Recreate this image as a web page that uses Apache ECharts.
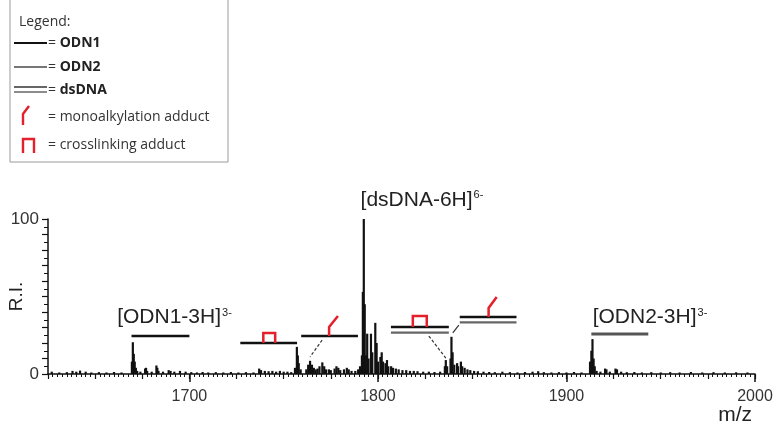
<!DOCTYPE html>
<html><head><meta charset="utf-8">
<script src="https://cdn.jsdelivr.net/npm/echarts@6/dist/echarts.min.js"></script>
<style>html,body{margin:0;padding:0;background:#fff}#c{width:777px;height:426px}</style>
</head><body><div id="c"></div>
<script>
// Stick spectrum: [m/z, relative intensity]
const peaks = [
 [1627,1.5],[1631,1],[1635,1.2],[1638,2],[1640,1.5],[1642,2.2],[1645,1.5],[1648,1],[1652,1.2],[1656,1],[1660,1.3],[1664,1],
 [1669.5,8],[1670,20.5],[1670.5,13],[1671,8],[1671.6,4],[1672.3,2],[1674,1.5],[1676.5,3.5],[1677,4],[1677.6,2],[1680,1.5],
 [1682.5,5.5],[1683,4],[1683.6,2],[1686,1.5],[1689,2.5],[1690,2],[1692,1.5],[1695,2],[1698,1.5],[1701,1.2],[1704,1],
 [1707,1.3],[1710,1],[1714,1.2],[1718,1],[1722,1.3],[1726,1],[1730,1.2],[1734,1],
 [1737,3.5],[1738,2.5],[1740,2],[1742,1.8],[1744,2],[1746,1.5],[1748,2],[1750,1.5],[1752,1.5],[1754,1.2],
 [1756,4],[1757,17.5],[1757.5,12],[1758,7],[1759,3],
 [1762,3],[1763,6],[1764,8.5],[1765,6],[1766,4],[1767,3],[1768,3.5],[1769,5],[1770.5,7.5],[1771.5,5],[1772.5,3],
 [1774,3],[1775,2.5],[1777,3.5],[1778,5],[1779,4],[1780,2.5],[1782,3],[1783.5,4],[1784.5,3],[1786,2],[1788,2],[1789.5,3],[1790.5,5],
 [1791.5,12],[1792,53],[1792.5,100],[1793,45],[1793.6,12],[1794.3,26],[1795,10],[1796.3,26],[1797,14],[1798.6,33],[1799.3,20],
 [1800,8],[1801.3,11],[1802,14],[1802.7,8],[1804,7],[1804.8,9],[1805.5,5],[1807,5],[1808,4],[1809.5,3.5],[1811,3],[1813,2.5],
 [1815,2.5],[1817,2],[1819,2],[1821,1.8],[1824,1.5],[1827,1.5],[1830,1.3],[1833,1.5],
 [1835.5,5],[1836,9],[1836.7,5],[1838.5,10],[1839,24],[1839.6,14],[1840.5,6],[1842,7],[1842.5,5],[1844,8],[1844.7,5],
 [1846,4],[1847.5,3],[1849,2.5],[1851,2],[1853,1.8],[1856,1.5],[1859,1.3],[1862,1.2],[1866,1.5],[1870,1.2],[1874,1],
 [1878,1.3],[1882,1.5],[1885,1.8],[1888,1.2],[1892,1],[1896,1.2],[1900,1],[1904,1.3],[1908,1],
 [1912.5,8],[1913.2,15],[1913.8,22.5],[1914.4,10],[1915,5],[1916,2],[1918,1.5],[1920.5,3.5],[1921.2,3],[1923,1.5],
 [1926,3.5],[1926.8,3],[1929,1.5],[1932,1.2],[1936,1.3],[1940,1],[1945,1.2],[1950,1],[1955,1.2],[1960,1],[1966,1.3],
 [1972,1],[1978,1.2],[1984,1],[1990,1.1],[1996,1]
];
const xTickLabels = [1700, 1800, 1900, 2000];
const yTickLabels = [0, 100];
// Ion labels: [main text, superscript, m/z of left edge, R.I. of baseline]
const ionLabels = [
 ['[ODN1-3H]', '3-', 1661.7, 29.6],
 ['[dsDNA-6H]', '6-', 1790.8, 105.2],
 ['[ODN2-3H]', '3-', 1913.9, 29.6]
];
// Strand bars: [m/z start, m/z end, R.I.]
const odn1Bars = [[1669.3, 1700, 24.5], [1727, 1757.1, 20], [1759.3, 1789.4, 24.5]];
const odn2Bars = [[1913.2, 1943.4, 25.8]];
const dsBars = [[1806.9, 1837.6, 30.3], [1843.4, 1873.5, 36.8]];
// Crosslink adducts: [m/z left, m/z right, R.I. base, R.I. top]
const crosslinks = [[1739.2, 1745.5, 20, 26.5], [1818.5, 1825.9, 30.3, 37.4]];
// Monoalkylation adducts: [m/z stem, R.I. base, R.I. knee, m/z tip, R.I. tip]
const monoAdducts = [[1774.1, 24.5, 30.3, 1778.8, 37.4], [1858.7, 36.8, 42.6, 1863, 49.7]];
// Connectors: [m/z1, R.I.1, m/z2, R.I.2, dashed]
const connectors = [[1770.4, 21.9, 1764, 11, 1], [1827, 24.5, 1836, 10.3, 1], [1842.9, 31.6, 1839.7, 26.5, 0]];

const RED = '#e3202b';
const FONT = 'Liberation Sans, Arial, sans-serif';
const LFONT = 'Open Sans, sans-serif';

const chart = echarts.init(document.getElementById('c'), null, {renderer: 'canvas'});

function customBase(data, renderItem) {
  return {type: 'custom', data: data, renderItem: renderItem, silent: true, clip: false,
    encode: {x: 0, y: 1}, z: 5, animation: false};
}

const option = {
  backgroundColor: '#fff',
  animation: false,
  grid: {left: 48, right: 22, top: 219, bottom: 52, containLabel: false, outerBoundsMode: 'none'},
  xAxis: [{
    type: 'value', min: 1625, max: 2000, interval: 25,
    axisLine: {lineStyle: {color: '#111', width: 1.5}},
    axisTick: {length: 5, lineStyle: {color: '#111', width: 1.2}},
    minorTick: {show: true, splitNumber: 10, length: 3, lineStyle: {color: '#111', width: 1}},
    axisLabel: {interval: 0, margin: 15, fontSize: 16, color: '#333', fontFamily: FONT,
      formatter: v => xTickLabels.indexOf(v) >= 0 ? String(v) : ''},
    splitLine: {show: false},
    name: 'm/z', nameLocation: 'end', nameGap: -3, nameMoveOverlap: false,
    nameTextStyle: {fontSize: 21, color: '#222', fontFamily: FONT, align: 'right', verticalAlign: 'top', padding: [31, 0, 0, 0]}
  }, {
    type: 'value', min: 1625, max: 2000, position: 'bottom', gridIndex: 0,
    axisLine: {show: false},
    axisTick: {show: true, customValues: xTickLabels, length: 8, lineStyle: {color: '#111', width: 1.5}},
    axisLabel: {show: false}, splitLine: {show: false}
  }],
  yAxis: {
    type: 'value', min: 0, max: 100, interval: 10,
    axisLine: {show: true, lineStyle: {color: '#111', width: 1.5}},
    axisTick: {show: true, length: 6, lineStyle: {color: '#111', width: 1.2}},
    minorTick: {show: true, splitNumber: 2, length: 4, lineStyle: {color: '#111', width: 1}},
    axisLabel: {margin: 9, fontSize: 17, color: '#333', fontFamily: FONT,
      formatter: v => yTickLabels.indexOf(v) >= 0 ? String(v) : ''},
    splitLine: {show: false},
    name: 'R.I.', nameLocation: 'middle', nameGap: 22, nameMoveOverlap: false,
    nameTextStyle: {fontSize: 19, color: '#222', fontFamily: FONT}
  },
  series: [
    {type: 'bar', data: peaks, barWidth: 2.2, itemStyle: {color: '#111'}, silent: true, z: 3},
    customBase(odn1Bars, (p, api) => {
      const a = api.coord([api.value(0), api.value(2)]), b = api.coord([api.value(1), api.value(2)]);
      return {type: 'line', shape: {x1: a[0], y1: a[1], x2: b[0], y2: b[1]}, style: {stroke: '#111', lineWidth: 2.6}};
    }),
    customBase(odn2Bars, (p, api) => {
      const a = api.coord([api.value(0), api.value(2)]), b = api.coord([api.value(1), api.value(2)]);
      return {type: 'line', shape: {x1: a[0], y1: a[1], x2: b[0], y2: b[1]}, style: {stroke: '#555', lineWidth: 2.8}};
    }),
    customBase(dsBars, (p, api) => {
      const a = api.coord([api.value(0), api.value(2)]), b = api.coord([api.value(1), api.value(2)]);
      return {type: 'group', children: [
        {type: 'line', shape: {x1: a[0], y1: a[1], x2: b[0], y2: b[1]}, style: {stroke: '#111', lineWidth: 2.4}},
        {type: 'line', shape: {x1: a[0], y1: a[1] + 5.5, x2: b[0], y2: b[1] + 5.5}, style: {stroke: '#666', lineWidth: 2.2}}
      ]};
    }),
    customBase(crosslinks, (p, api) => {
      const l = api.coord([api.value(0), api.value(2)]), t = api.coord([api.value(1), api.value(3)]);
      return {type: 'polyline', shape: {points: [[l[0], l[1]], [l[0], t[1]], [t[0], t[1]], [t[0], l[1]]]},
        style: {stroke: RED, lineWidth: 2.5, fill: null}};
    }),
    customBase(monoAdducts, (p, api) => {
      const a = api.coord([api.value(0), api.value(1)]), k = api.coord([api.value(0), api.value(2)]),
            t = api.coord([api.value(3), api.value(4)]);
      return {type: 'polyline', shape: {points: [a, k, t]}, style: {stroke: RED, lineWidth: 2.5, fill: null}};
    }),
    customBase(connectors, (p, api) => {
      const a = api.coord([api.value(0), api.value(1)]), b = api.coord([api.value(2), api.value(3)]);
      return {type: 'line', shape: {x1: a[0], y1: a[1], x2: b[0], y2: b[1]},
        style: {stroke: '#333', lineWidth: 1.2, lineDash: api.value(4) ? [3, 2] : null}};
    }),
    {type: 'custom', data: ionLabels, silent: true, clip: false, animation: false, z: 6,
      encode: {x: 2, y: 3},
      renderItem: (p, api) => {
        const d = ionLabels[p.dataIndex];
        const pt = api.coord([d[2], d[3]]);
        return {type: 'text', x: pt[0], y: pt[1], style: {
          text: '{m|' + d[0] + '}{s|' + d[1] + '}', align: 'left', verticalAlign: 'bottom',
          rich: {
            m: {fontSize: 21, fontFamily: FONT, fill: '#222', lineHeight: 24, verticalAlign: 'bottom'},
            s: {fontSize: 11, fontFamily: FONT, fill: '#222', lineHeight: 24, verticalAlign: 'top', padding: [3, 0, 0, 1]}
          }
        }};
      }}
  ],
  graphic: [
    {type: 'rect', shape: {x: 10, y: -5, width: 218, height: 167}, style: {fill: '#fff', stroke: '#9a9a9a', lineWidth: 1}, z: 1},
    {type: 'text', x: 19, y: 22, style: {text: 'Legend:', font: '14px ' + LFONT, fill: '#333', verticalAlign: 'middle'}, z: 2},
    {type: 'line', shape: {x1: 14, y1: 43, x2: 47, y2: 43}, style: {stroke: '#111', lineWidth: 2}, z: 2},
    {type: 'line', shape: {x1: 14, y1: 67, x2: 47, y2: 67}, style: {stroke: '#777', lineWidth: 1.8}, z: 2},
    {type: 'line', shape: {x1: 14, y1: 87, x2: 47, y2: 87}, style: {stroke: '#333', lineWidth: 1.6}, z: 2},
    {type: 'line', shape: {x1: 14, y1: 92, x2: 47, y2: 92}, style: {stroke: '#666', lineWidth: 1.6}, z: 2},
    {type: 'polyline', shape: {points: [[23, 125], [23, 114], [29, 106]]}, style: {stroke: RED, lineWidth: 2.4, fill: null}, z: 2},
    {type: 'polyline', shape: {points: [[23, 153], [23, 139], [34, 139], [34, 153]]}, style: {stroke: RED, lineWidth: 2.4, fill: null}, z: 2},
    {type: 'text', x: 48, y: 43, style: {text: '= {b|ODN1}', font: '14px ' + LFONT, fill: '#333', verticalAlign: 'middle',
      rich: {b: {fontWeight: 'bold', fontSize: 14, fontFamily: LFONT, fill: '#222'}}}, z: 2},
    {type: 'text', x: 48, y: 67, style: {text: '= {b|ODN2}', font: '14px ' + LFONT, fill: '#333', verticalAlign: 'middle',
      rich: {b: {fontWeight: 'bold', fontSize: 14, fontFamily: LFONT, fill: '#222'}}}, z: 2},
    {type: 'text', x: 48, y: 90, style: {text: '= {b|dsDNA}', font: '14px ' + LFONT, fill: '#333', verticalAlign: 'middle',
      rich: {b: {fontWeight: 'bold', fontSize: 14, fontFamily: LFONT, fill: '#222'}}}, z: 2},
    {type: 'text', x: 48, y: 117, style: {text: '= monoalkylation adduct', font: '14px ' + LFONT, fill: '#333', verticalAlign: 'middle'}, z: 2},
    {type: 'text', x: 48, y: 145, style: {text: '= crosslinking adduct', font: '14px ' + LFONT, fill: '#333', verticalAlign: 'middle'}, z: 2}
  ]
};
chart.setOption(option);
</script>
</body></html>
